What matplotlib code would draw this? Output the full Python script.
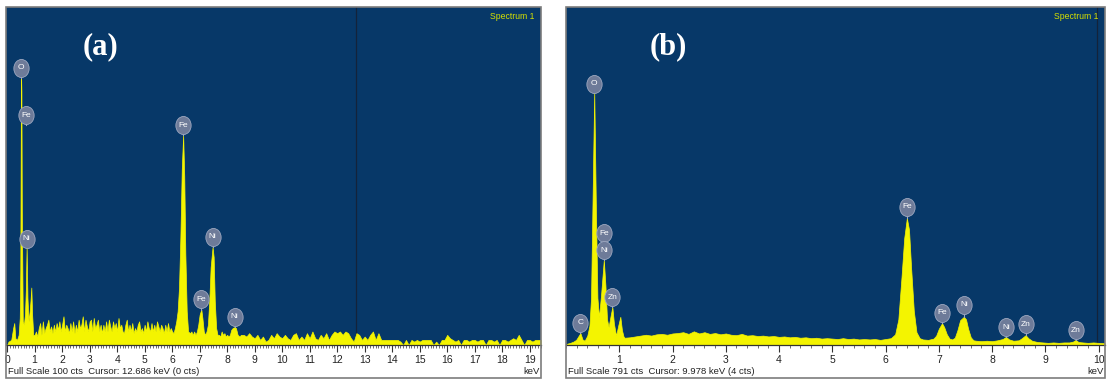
import numpy as np
import matplotlib
matplotlib.use("Agg")
import matplotlib.pyplot as plt
from matplotlib.patches import Rectangle
from matplotlib.markers import MarkerStyle
from matplotlib.transforms import Affine2D

# ---------------- data: panel (a) ----------------
energy_a = [0.00, 0.05, 0.15, 0.22, 0.26, 0.30, 0.36, 0.42, 0.46, 0.48, 0.50, 0.51, 0.52, 0.535,
            0.57, 0.61, 0.65, 0.68, 0.71, 0.74, 0.78, 0.82, 0.85, 0.88, 0.91, 0.95,
            1.00, 1.05, 1.10, 1.15, 1.20, 1.25, 1.30, 1.35, 1.40, 1.45, 1.50, 1.55, 1.60, 1.65,
            1.70, 1.75, 1.80, 1.85, 1.90, 1.95, 2.00, 2.05, 2.10, 2.15, 2.20, 2.25, 2.30, 2.35,
            2.40, 2.45, 2.50, 2.55, 2.60, 2.65, 2.70, 2.75, 2.80, 2.85, 2.90, 2.95, 3.00, 3.05,
            3.10, 3.15, 3.20, 3.25, 3.30, 3.35, 3.40, 3.45, 3.50, 3.55, 3.60, 3.65, 3.70, 3.75,
            3.80, 3.85, 3.90, 3.95, 4.00, 4.05, 4.10, 4.15, 4.20, 4.25, 4.30, 4.35, 4.40, 4.45,
            4.50, 4.55, 4.60, 4.65, 4.70, 4.75, 4.80, 4.85, 4.90, 4.95, 5.00, 5.05, 5.10, 5.15,
            5.20, 5.25, 5.30, 5.35, 5.40, 5.45, 5.50, 5.55, 5.60, 5.65, 5.70, 5.75, 5.80, 5.85,
            5.90, 5.95, 6.00, 6.05, 6.10, 6.15,
            6.20, 6.25, 6.30, 6.35, 6.40, 6.44, 6.48, 6.53, 6.58, 6.65, 6.70, 6.75, 6.80, 6.85,
            6.90, 6.95, 7.00, 7.06, 7.10, 7.15, 7.20, 7.25, 7.30, 7.35, 7.40, 7.47, 7.51, 7.55,
            7.60, 7.65, 7.70, 7.75, 7.80, 7.85, 7.90, 7.95, 8.00, 8.05, 8.10, 8.15, 8.20, 8.27,
            8.32, 8.38, 8.45, 8.50, 8.55,
            8.6, 8.7, 8.8, 8.9, 9.0, 9.1, 9.2, 9.3, 9.4, 9.5, 9.6, 9.7, 9.8, 9.9, 10.0, 10.1,
            10.2, 10.3, 10.4, 10.5, 10.6, 10.7, 10.8, 10.9, 11.0, 11.1, 11.2, 11.3, 11.4, 11.5,
            11.6, 11.7, 11.8, 11.9, 12.0, 12.1, 12.2, 12.3, 12.4, 12.5, 12.6, 12.7, 12.8, 12.9,
            13.0, 13.1, 13.2, 13.3, 13.4, 13.5, 13.6, 13.7, 13.8, 13.9, 14.0, 14.1, 14.2, 14.3,
            14.4, 14.5, 14.6, 14.7, 14.8, 14.9, 15.0, 15.1, 15.2, 15.3, 15.4, 15.5, 15.6, 15.7,
            15.8, 15.9, 16.0, 16.1, 16.2, 16.3, 16.4, 16.5, 16.6, 16.7, 16.8, 16.9, 17.0, 17.1,
            17.2, 17.3, 17.4, 17.5, 17.6, 17.7, 17.8, 17.9, 18.0, 18.1, 18.2, 18.3, 18.4, 18.5,
            18.6, 18.7, 18.8, 18.9, 19.0, 19.1, 19.2, 19.3, 19.4]
counts_a = [0, 1, 1.5, 5, 6.5, 2, 1.5, 3, 8, 22, 70, 79, 75, 40,
            7, 6, 9, 16, 29, 14, 7, 10, 13, 17, 9, 3,
            3, 4, 2.5, 5, 6.5, 3, 7, 3.5, 5, 6, 7.5, 4, 5.5, 3.5,
            6, 4, 6.5, 4.5, 7, 4, 6, 8.5, 4, 6, 5, 3.5, 6.5, 4,
            7, 3.5, 6, 4, 7.5, 5, 6, 8.5, 4, 7.5, 5.5, 4, 7, 7.5,
            4, 8, 5, 6, 7.5, 4, 6, 3.5, 6, 4, 7, 4, 7.5, 5.5,
            4, 7, 5, 6.5, 4, 8, 5, 6, 4, 3.5, 6, 7.5, 4, 6,
            4, 6.5, 3.5, 5, 4, 6, 7, 4, 5, 3.5, 6, 4, 7, 5,
            4, 6.5, 4, 6, 4, 7, 5.5, 4, 6, 5, 3.5, 6, 4, 6.5,
            4, 5, 4, 3.5, 5, 7,
            10, 17, 32, 52, 62, 50, 27, 10, 4, 3.5, 4, 3, 4, 3,
            4, 6, 9, 10.5, 8, 4, 3, 4, 6, 13, 23, 29, 26, 13,
            5, 3, 3, 2.5, 4, 3, 3.5, 2.5, 3, 2.5, 3, 4.5, 5, 5.3,
            5, 3, 2.5, 3, 3,
            3, 2.5, 3.5, 2.5, 2, 3, 1.5, 2.5, 1, 1.5, 3, 2, 3.5, 2.5, 2, 3,
            2, 1.5, 3, 3.5, 1.5, 2.5, 1.5, 3.5, 2, 4, 2, 1.5, 3, 2,
            3.5, 1.5, 3, 4, 3.5, 4, 3, 4, 3.5, 2, 1, 3.5, 3, 1.5,
            2.5, 1.5, 3, 4, 1.5, 3.5, 1.5, 1.5, 1.5, 1.5, 1.5, 1.5, 1.5, 1,
            0, 1.5, 0, 1.5, 1, 1.5, 1, 1.5, 1.5, 1.5, 1.5, 0, 1, 0,
            1.5, 1.5, 3, 2, 1.5, 1, 1.5, 0, 1.5, 1.5, 1, 1.5, 1.5, 1,
            1.5, 1.5, 0, 1.5, 1.5, 1, 1.5, 0, 1.5, 1.5, 1, 1.5, 2, 1.5,
            3, 1.5, 0, 1.5, 1.5, 1, 1.5, 1.5, 1.5]

labels_a = ["O", "Fe", "Ni", "Fe", "Fe", "Ni", "Ni"]
label_e_a = [0.51, 0.70, 0.71, 6.40, 7.06, 7.47, 8.27]
label_y_a = [82, 68, 31.5, 65, 13.5, 32, 8.3]
peak_y_a = [79, 65, 29, 62, 10.5, 29, 5.3]

# ---------------- data: panel (b) ----------------
energy_b = [0.02, 0.08, 0.14, 0.19, 0.23, 0.27, 0.31, 0.35, 0.40, 0.44, 0.47, 0.50, 0.53, 0.56,
            0.59, 0.62, 0.66, 0.71, 0.74, 0.77, 0.80, 0.84, 0.87, 0.90, 0.94, 0.98, 1.02, 1.05,
            1.08,
            1.1, 1.2, 1.3, 1.4, 1.5, 1.6, 1.7, 1.8, 1.9, 2.0, 2.1, 2.2, 2.3, 2.4, 2.5, 2.6, 2.7,
            2.8, 2.9, 3.0, 3.1, 3.2, 3.3, 3.4, 3.5, 3.6, 3.7, 3.8, 3.9, 4.0, 4.1, 4.2, 4.3, 4.4,
            4.5, 4.6, 4.7, 4.8, 4.9, 5.0, 5.1, 5.2, 5.3, 5.4, 5.5, 5.6, 5.7, 5.8, 5.9, 6.0, 6.1,
            6.18, 6.24, 6.30, 6.35, 6.40, 6.44, 6.48, 6.53, 6.58, 6.64, 6.70, 6.80, 6.90, 6.95,
            7.00, 7.06, 7.10, 7.15, 7.20, 7.25, 7.30, 7.35, 7.40, 7.47, 7.51, 7.55, 7.60, 7.65,
            7.70, 7.80, 7.90, 8.00, 8.10, 8.20, 8.26, 8.32, 8.40, 8.50, 8.56, 8.63, 8.68, 8.75,
            8.85, 8.95, 9.05, 9.15, 9.25, 9.35, 9.45, 9.52, 9.57, 9.62, 9.70, 9.80, 9.90, 10.00,
            10.12]
counts_b = [3, 5, 8, 12, 20, 28, 13, 10, 22, 45, 110, 350, 592, 330,
            110, 65, 120, 199, 140, 60, 42, 70, 89, 50, 22, 45, 66, 35,
            20,
            17, 18, 20, 22, 24, 22, 25, 26, 24, 27, 28, 30, 26, 32, 27, 30, 26,
            28, 25, 27, 24, 23, 26, 22, 23, 21, 22, 20, 21, 19, 20, 18, 19, 17,
            18, 16, 17, 15, 16, 15, 14, 16, 14, 15, 13, 14, 13, 14, 12, 14, 16,
            25, 60, 160, 250, 297, 270, 180, 80, 30, 16, 13, 12, 15, 22,
            38, 51, 42, 25, 15, 13, 17, 35, 58, 66, 60, 38, 18, 11,
            10, 9, 10, 9, 11, 14, 19, 13, 10, 11, 16, 23, 16, 10,
            7, 6, 5, 6, 5, 6, 6, 8, 12, 7, 6, 5, 6, 5,
            4]

labels_b = ["C", "O", "Fe", "Ni", "Zn", "Fe", "Fe", "Ni", "Ni", "Zn", "Zn"]
label_e_b = [0.27, 0.53, 0.71, 0.71, 0.87, 6.40, 7.06, 7.47, 8.26, 8.63, 9.57]
label_y_b = [52, 611, 262, 222, 112, 323, 75, 94, 42, 49, 35]
peak_y_b = [28, 592, 242, 199, 89, 297, 51, 66, 19, 23, 12]

full_scale = [100, 791]
cursor_keV = [12.686, 9.978]
footer = ["Full Scale 100 cts  Cursor: 12.686 keV (0 cts)",
          "Full Scale 791 cts  Cursor: 9.978 keV (4 cts)"]
panel_tags = ["(a)", "(b)"]

# ---------------- styling ----------------
W, H = 1108, 380
BG = "#073868"
YEL = "#f4f400"
LBL_FC = "#6e7b99"
LBL_EC = "#9ea8c0"
SANS = dict(family=["Liberation Sans", "DejaVu Sans"])

fig = plt.figure(figsize=(W / 100, H / 100), dpi=100)
fig.patch.set_facecolor("white")


def px_axes(l, t, r, b):
    return fig.add_axes([l / W, 1 - b / H, (r - l) / W, (b - t) / H])


ell = MarkerStyle("o", transform=Affine2D().scale(1.0, 1.18))


def draw_panel(box, xlim, E, C, ymax, cursor, labs, le, ly, lp, major, minor,
               tick_start, foot, tag, tag_x):
    l, t, r, b = box
    fig.add_artist(Rectangle((l / W, 1 - 378 / H), (r - l) / W, (378 - t) / H,
                             transform=fig.transFigure, fill=False,
                             ec="#7d7d7d", lw=1.2, zorder=10))
    ax = px_axes(l, t, r, b)
    ax.set_facecolor(BG)
    ax.fill_between(E, C, 0, color=YEL, lw=0.5, ec=YEL, zorder=2)
    ax.axvline(cursor, color="#14233a", lw=0.9, zorder=1)
    ax.set_xlim(*xlim)
    ax.set_ylim(0, ymax)
    for i in range(len(labs)):
        ax.plot([le[i], le[i]], [lp[i], ly[i]], color=LBL_EC, lw=0.8, zorder=3)
        ax.plot([le[i]], [ly[i]], marker=ell, ms=11, mfc=LBL_FC, mec=LBL_EC,
                mew=0.6, zorder=4, ls="none")
        ax.text(le[i], ly[i], labs[i], ha="center", va="center", fontsize=6,
                color="white", zorder=5, **SANS)
    for s in ["left", "right", "top"]:
        ax.spines[s].set_visible(False)
    ax.spines["bottom"].set_color("#333333")
    ax.spines["bottom"].set_linewidth(0.9)
    ax.set_yticks([])
    ticks = np.arange(tick_start, xlim[1] + 1e-9, major)
    ax.set_xticks(ticks)
    ax.set_xticklabels([str(int(v)) for v in ticks], **SANS)
    ax.set_xticks(np.arange(0, xlim[1], minor), minor=True)
    ax.tick_params(axis="x", which="major", direction="out", length=5, width=0.8,
                   color="#333333", labelsize=7.5, labelcolor="#222222", pad=2)
    ax.tick_params(axis="x", which="minor", direction="out", length=2.5, width=0.6,
                   color="#555555")
    ax.text(0.988, 0.985, "Spectrum 1", transform=ax.transAxes, ha="right", va="top",
            fontsize=6.2, color="#d6e000", **SANS)
    fig.text((l + 1.5) / W, 1 - 371 / H, foot, ha="left", va="center", fontsize=6.8,
             color="#222222", **SANS)
    fig.text((r - 1.5) / W, 1 - 371 / H, "keV", ha="right", va="center", fontsize=6.8,
             color="#222222", **SANS)
    fig.text(tag_x / W, 1 - 47 / H, tag, ha="center", va="center", fontsize=22,
             fontweight="bold", color="white",
             family=["Liberation Serif", "DejaVu Serif"], zorder=12)
    return ax


draw_panel((6, 7, 541, 345), (-0.04, 19.41), energy_a, counts_a, full_scale[0],
           cursor_keV[0], labels_a, label_e_a, label_y_a, peak_y_a, 1, 0.1, 0,
           footer[0], panel_tags[0], 100)
draw_panel((566, 7, 1105, 345), (0.01, 10.12), energy_b, counts_b, full_scale[1],
           cursor_keV[1], labels_b, label_e_b, label_y_b, peak_y_b, 1, 0.2, 1,
           footer[1], panel_tags[1], 668)

fig.savefig("out.png", dpi=100, facecolor="white")
